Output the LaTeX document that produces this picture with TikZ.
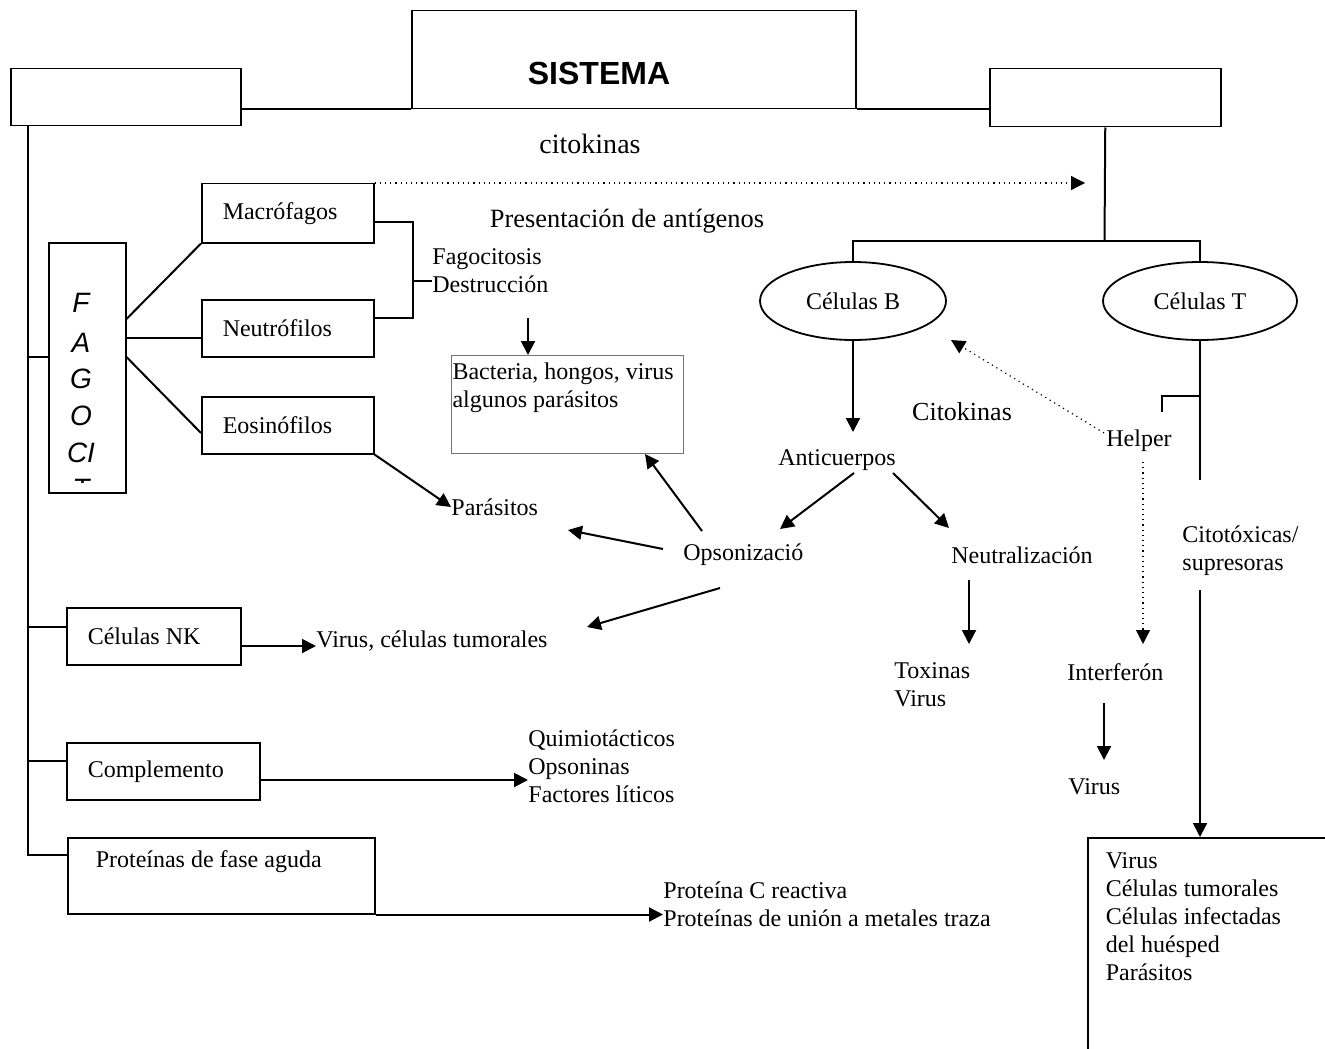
\documentclass[tikz,border=0pt]{standalone}
\usepackage{fontspec}
\setmainfont{Liberation Serif}
\setsansfont{Liberation Sans}
\usetikzlibrary{arrows.meta,shapes.geometric}

\newcommand{\enlinea}[2]{\makebox[#1][l]{#2}}

\begin{document}
\begin{tikzpicture}[x=0.5pt,y=-0.5pt,
    every node/.style={font=\fontsize{12}{14}\selectfont},
    caja/.style={draw, line width=0.75pt, anchor=north west, inner xsep=10.5pt, inner ysep=0pt},
    texto/.style={anchor=west, align=left, inner sep=0pt},
    linea/.style={line width=1pt},
    flecha/.style={line width=1pt, -{Triangle[length=7pt,width=7pt]}},
    punteada/.style={line width=0.6pt, dotted, -{Triangle[length=7pt,width=7pt]}},
    celula/.style={draw, ellipse, line width=0.9pt, minimum width=93pt, minimum height=39pt},
    letra/.style={font=\sffamily\itshape\fontsize{14}{16}\selectfont}]

    \useasboundingbox (0,0) rectangle (1325,1048);

    % cajas de arriba
    \node[draw, line width=0.75pt, anchor=north west, minimum width=222pt, minimum height=49pt, inner sep=0pt] (sistema) at (411,10) {};
    \node[font=\sffamily\bfseries\fontsize{16}{18}\selectfont] (titulo) at (599,73) {SISTEMA};
    \node[caja, minimum width=115pt, minimum height=28.5pt] (innato) at (10,68) {};
    \node[caja, minimum width=115.5pt, minimum height=29pt] (adquirido) at (989,68) {};
    \draw[linea] (sistema.south west) -- (sistema.south west -| innato.east);
    \draw[linea] (sistema.south east) -- (sistema.south east -| adquirido.west);
    \node[font=\fontsize{14}{16}\selectfont] (citok) at (590,144) {citokinas};

    % rama izquierda
    \node[caja, minimum height=29.5pt] (macro) at (201,183) {\enlinea{65pt}{Macrófagos}};
    \node[caja, minimum height=28.5pt] (neutro) at (201,299) {\enlinea{65pt}{Neutrófilos}};
    \node[caja, minimum height=28.5pt] (eosino) at (201,396) {\enlinea{65pt}{Eosinófilos}};
    \node[caja, minimum height=28.5pt] (nk) at (66,607) {\enlinea{66pt}{Células NK}};
    \node[caja, minimum height=28.5pt] (compl) at (66,742) {\enlinea{75.5pt}{Complemento}};
    \node[caja, inner xsep=14pt, text height=15pt, text depth=23pt] (prot) at (67,837) {\enlinea{125.5pt}{Proteínas de fase aguda}};

    \node[draw, line width=0.75pt, anchor=north west, minimum width=38.5pt, minimum height=125pt, inner sep=0pt] (fago) at (48,242) {};
    \begin{scope}
        \clip (48,242) rectangle (125,482);
        \foreach \l/\y in {F/303, A/343, G/379, O/416, CI/453, T/489}
            \node[letra] (l-\l) at (81,\y) {\l};
    \end{scope}

    \coordinate (raiz) at (28,125);
    \draw[linea] (raiz) |- (prot.west |- 0,855);
    \draw[linea] (raiz |- 0,357) -- (fago.west |- 0,357);
    \draw[linea] (raiz |- 0,627) -- (nk.west |- 0,627);
    \draw[linea] (raiz |- 0,761) -- (compl.west |- 0,761);

    \draw[linea] (fago.east |- 0,319) -- (macro.south west);
    \draw[linea] (fago.east |- 0,338) -- (neutro.west |- 0,338);
    \draw[linea] (fago.east |- 0,357) -- (eosino.west |- 0,433);

    \node[texto] (fagocit) at (432,271) {Fagocitosis\\Destrucción};
    \coordinate (llave) at (413,281);
    \draw[linea] (macro.east |- 0,222) -| (llave) |- (neutro.east |- 0,318);
    \draw[linea] (llave) -- (fagocit.west |- llave);

    \node[draw=black!55, line width=0.5pt, anchor=north west, inner xsep=0.5pt, inner ysep=2pt] (bact) at (451,355)
        {\parbox[t][45pt][t]{115pt}{\strut Bacteria, hongos, virus\\algunos parásitos}};
    \coordinate (fdes) at (528,318);
    \draw[flecha] (fdes) -- (fdes |- bact.north);

    \node[font=\fontsize{13.2}{15}\selectfont] (presenta) at (627,221) {Presentación de antígenos};
    \coordinate (fpres) at (1085,183);
    \draw[punteada] (macro.north east) -- (fpres);

    \node[texto] (parasit) at (451,507) {Parásitos};
    \node[texto] (viruscel) at (316,641) {Virus, células tumorales};
    \node[texto] (quimio) at (528,766) {Quimiotácticos\\Opsoninas\\Factores líticos};
    \node[texto] (proteinac) at (663,904) {Proteína C reactiva\\Proteínas de unión a metales traza};
    \draw[flecha] (eosino.south east) -- (parasit.west);
    \draw[flecha] (nk.east |- 0,646) -- (viruscel.west |- 0,646);
    \draw[flecha] (compl.east |- 0,780) -- (quimio.west |- 0,780);
    \draw[flecha] (prot.south east) -- (proteinac.west |- prot.south east);

    % rama derecha
    \node[celula] (celB) at (853,301) {Células B};
    \node[celula, minimum width=97pt] (celT) at (1200,301) {Células T};
    \coordinate (nudo) at (1104.5,241);
    \draw[linea] (adquirido.south) -- (nudo);
    \draw[linea] (celB.north) |- (nudo) -| (celT.north);

    \node (anti) at (837,460) {Anticuerpos};
    \node[font=\fontsize{13}{15}\selectfont] (citok2) at (962,412) {Citokinas};
    \node (helper) at (1139,441) {Helper};
    \node[texto] (opson) at (683,555) {Opsonizació};
    \node (neutra) at (1022,555) {Neutralización};
    \node[texto] (citotox) at (1182,551) {Citotóxicas/\\supresoras};
    \node[texto] (toxinas) at (894,685) {Toxinas\\Virus};
    \node[texto] (interf) at (1067,672) {Interferón};
    \node[texto] (virus2) at (1068,787) {Virus};

    \coordinate (fanti) at (853,432);
    \draw[flecha] (celB.south) -- (fanti);
    \draw[flecha] (854,473) -- (780,529);
    \draw[flecha] (893,473) -- (949,528);
    \draw[flecha] (702,531) -- (645,454);
    \draw[flecha] (663,549) -- (568,530);
    \draw[flecha] (720,588) -- (587,627);
    \draw[flecha] (969,580) -- (969,644);
    \draw[punteada] (1104,433) -- (951,340);
    \draw[punteada] (1143,462) -- (1143,644);
    \draw[flecha] (1104,703) -- (1104,760);

    \node[draw, line width=0.75pt, anchor=north west, inner xsep=9pt, inner ysep=5.5pt] (dianas) at (1087,837)
        {\parbox[t][120pt][t]{140pt}{\strut Virus\\Células tumorales\\Células infectadas\\del huésped\\Parásitos}};
    \coordinate (corteA) at (1200,480);
    \coordinate (corteB) at (1200,590);
    \draw[linea] (celT.south) -- (corteA);
    \draw[linea] (celT.south |- 0,396) -| (1162,412);
    \draw[flecha] (corteB) -- (corteB |- dianas.north);
\end{tikzpicture}
\end{document}
